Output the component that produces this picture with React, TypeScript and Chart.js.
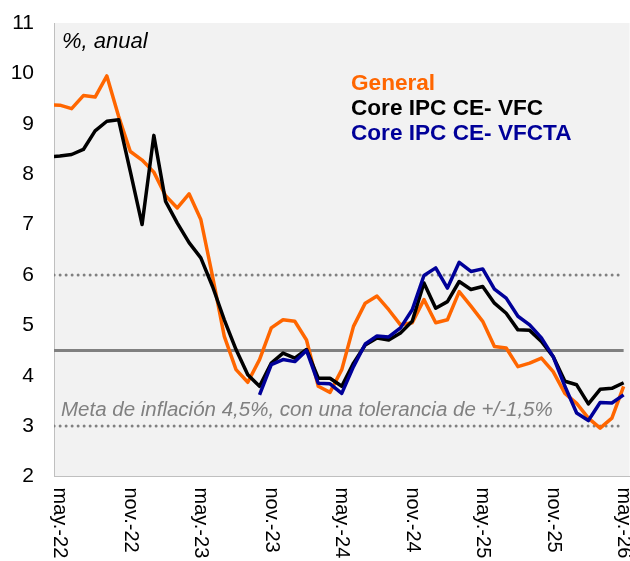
import { useEffect, useRef } from "react";
import { Chart, registerables } from "chart.js";

Chart.register(...registerables);

// ---- Data ----
const monthAbbr = ["ene.", "feb.", "mar.", "abr.", "may.", "jun.", "jul.", "ago.", "sep.", "oct.", "nov.", "dic."];
// Monthly categories from abr.-22 to may.-26 (abr.-22 sits just left of the visible axis)
const months: string[] = [];
for (let k = 0; k < 50; k++) {
  const m = (3 + k) % 12;
  const y = 22 + Math.floor((3 + k) / 12);
  months.push(`${monthAbbr[m]}-${y}`);
}

const general = [
  9.38, 9.37, 9.30, 9.56, 9.53, 9.95, 9.15, 8.45, 8.28, 8.04,
  7.57, 7.33, 7.61, 7.10, 5.97, 4.78, 4.12, 3.87, 4.32, 4.95,
  5.11, 5.08, 4.71, 3.79, 3.67, 4.12, 4.98, 5.44, 5.58, 5.31,
  5.01, 5.05, 5.51, 5.05, 5.11, 5.67, 5.38, 5.08, 4.58, 4.55,
  4.18, 4.25, 4.35, 4.08, 3.65, 3.45, 3.16, 2.96, 3.16, 3.79,
];

const coreVFC = [
  8.34, 8.36, 8.39, 8.49, 8.86, 9.05, 9.08, 8.05, 7.00, 8.77,
  7.46, 7.03, 6.64, 6.34, 5.77, 5.11, 4.52, 4.02, 3.79, 4.25,
  4.45, 4.35, 4.52, 3.95, 3.95, 3.79, 4.25, 4.61, 4.75, 4.71,
  4.85, 5.08, 5.84, 5.34, 5.47, 5.87, 5.71, 5.77, 5.44, 5.24,
  4.91, 4.90, 4.68, 4.38, 3.89, 3.82, 3.44, 3.73, 3.75, 3.86,
];

const coreVFCTA: (number | null)[] = [
  null, null, null, null, null, null, null, null, null, null,
  null, null, null, null, null, null, null, null, 3.62, 4.22,
  4.32, 4.28, 4.50, 3.85, 3.84, 3.65, 4.18, 4.63, 4.79, 4.77,
  4.95, 5.31, 5.99, 6.14, 5.74, 6.25, 6.07, 6.12, 5.72, 5.54,
  5.18, 5.01, 4.75, 4.38, 3.79, 3.26, 3.11, 3.47, 3.46, 3.62,
];

const targetValue = 4.5;
const bandUpper = 6;
const bandLower = 3;

const yMin = 2;
const yMax = 11;
const labelEvery = 6;

const seriesNames = ["General", "Core IPC CE- VFC", "Core IPC CE- VFCTA"];
const seriesColors = ["#ff6600", "#000000", "#000099"];

const FONT = "'Liberation Sans', Arial, Helvetica, sans-serif";

const toPoints = (arr: (number | null)[]) =>
  arr.map((v, k) => ({ x: k - 1, y: v }));

const constPoints = (v: number) => months.map((_, k) => ({ x: k - 1, y: v }));

export default function App() {
  const canvasRef = useRef<HTMLCanvasElement | null>(null);

  useEffect(() => {
    const canvas = canvasRef.current;
    if (!canvas) return;

    const bgPlugin = {
      id: "plotBg",
      beforeDraw(chart: any) {
        const { ctx, chartArea } = chart;
        ctx.save();
        ctx.fillStyle = "#f2f2f2";
        ctx.fillRect(chartArea.left, chartArea.top, chartArea.right - chartArea.left, chartArea.bottom - chartArea.top);
        ctx.restore();
      },
    };

    const textPlugin = {
      id: "texts",
      afterDraw(chart: any) {
        const { ctx, chartArea } = chart;
        const xs = chart.scales.x;
        ctx.save();
        // x labels, rotated clockwise
        ctx.fillStyle = "#000000";
        ctx.font = `20px ${FONT}`;
        ctx.textAlign = "left";
        ctx.textBaseline = "middle";
        for (let k = 1; k < months.length; k += labelEvery) {
          const px = xs.getPixelForValue(k - 1);
          ctx.save();
          ctx.translate(px, chartArea.bottom + 11);
          ctx.rotate(Math.PI / 2);
          ctx.fillText(months[k], 0, 0);
          ctx.restore();
        }
        ctx.textBaseline = "alphabetic";
        // unit title
        ctx.font = `italic 22px ${FONT}`;
        ctx.fillStyle = "#000000";
        ctx.fillText("%, anual", chartArea.left + 8, 48);
        // target annotation
        ctx.font = `italic 20.5px ${FONT}`;
        ctx.fillStyle = "#808080";
        ctx.fillText("Meta de inflación 4,5%, con una tolerancia de +/-1,5%", chartArea.left + 7, 416);
        // legend
        ctx.font = `bold 22.6px ${FONT}`;
        seriesNames.forEach((name, i) => {
          ctx.fillStyle = seriesColors[i];
          ctx.fillText(name, 351, 90 + i * 25);
        });
        ctx.restore();
      },
    };

    const chart = new Chart(canvas, {
      type: "line",
      data: {
        datasets: [
          {
            label: seriesNames[2],
            data: toPoints(coreVFCTA),
            borderColor: seriesColors[2],
            borderWidth: 3.5,
            order: 0,
          },
          {
            label: seriesNames[1],
            data: toPoints(coreVFC),
            borderColor: seriesColors[1],
            borderWidth: 3.5,
            order: 1,
          },
          {
            label: seriesNames[0],
            data: toPoints(general),
            borderColor: seriesColors[0],
            borderWidth: 3.5,
            order: 2,
          },
          {
            label: "Meta",
            data: constPoints(targetValue),
            borderColor: "#808080",
            borderWidth: 3,
            order: 3,
          },
          {
            label: "Tope",
            data: constPoints(bandUpper),
            borderColor: "#808080",
            borderWidth: 3,
            borderDash: [0, 6],
            borderCapStyle: "round",
            order: 4,
          },
          {
            label: "Piso",
            data: constPoints(bandLower),
            borderColor: "#808080",
            borderWidth: 3,
            borderDash: [0, 6],
            borderCapStyle: "round",
            order: 5,
          },
        ] as any,
      },
      options: {
        responsive: false,
        animation: false,
        events: [],
        elements: {
          point: { radius: 0 },
          line: { tension: 0, borderJoinStyle: "round", fill: false },
        },
        layout: { padding: { top: 23, right: 0.5, left: 0, bottom: 0 } },
        plugins: {
          legend: { display: false },
          tooltip: { enabled: false },
        },
        scales: {
          x: {
            type: "linear",
            min: -0.5,
            max: 48.5,
            grid: { display: false, drawTicks: false },
            border: { display: true, color: "#bfbfbf", width: 1 },
            ticks: { display: false },
            afterFit(scale: any) {
              scale.height = 84.5;
              scale.paddingLeft = 0;
              scale.paddingRight = 0;
            },
          },
          y: {
            min: yMin,
            max: yMax,
            grid: { display: false, drawTicks: false },
            border: { display: true, color: "#bfbfbf", width: 1 },
            ticks: {
              stepSize: 1,
              padding: 20,
              color: "#000000",
              font: { family: FONT, size: 21 },
            },
            afterFit(scale: any) {
              scale.width = 54;
              scale.paddingTop = 0;
              scale.paddingBottom = 0;
            },
          },
        },
      } as any,
      plugins: [bgPlugin, textPlugin],
    });

    return () => chart.destroy();
  }, []);

  return (
    <div style={{ position: "fixed", left: 0, top: 0, width: 630, height: 561, background: "#ffffff" }}>
      <canvas ref={canvasRef} width={630} height={561} />
    </div>
  );
}
